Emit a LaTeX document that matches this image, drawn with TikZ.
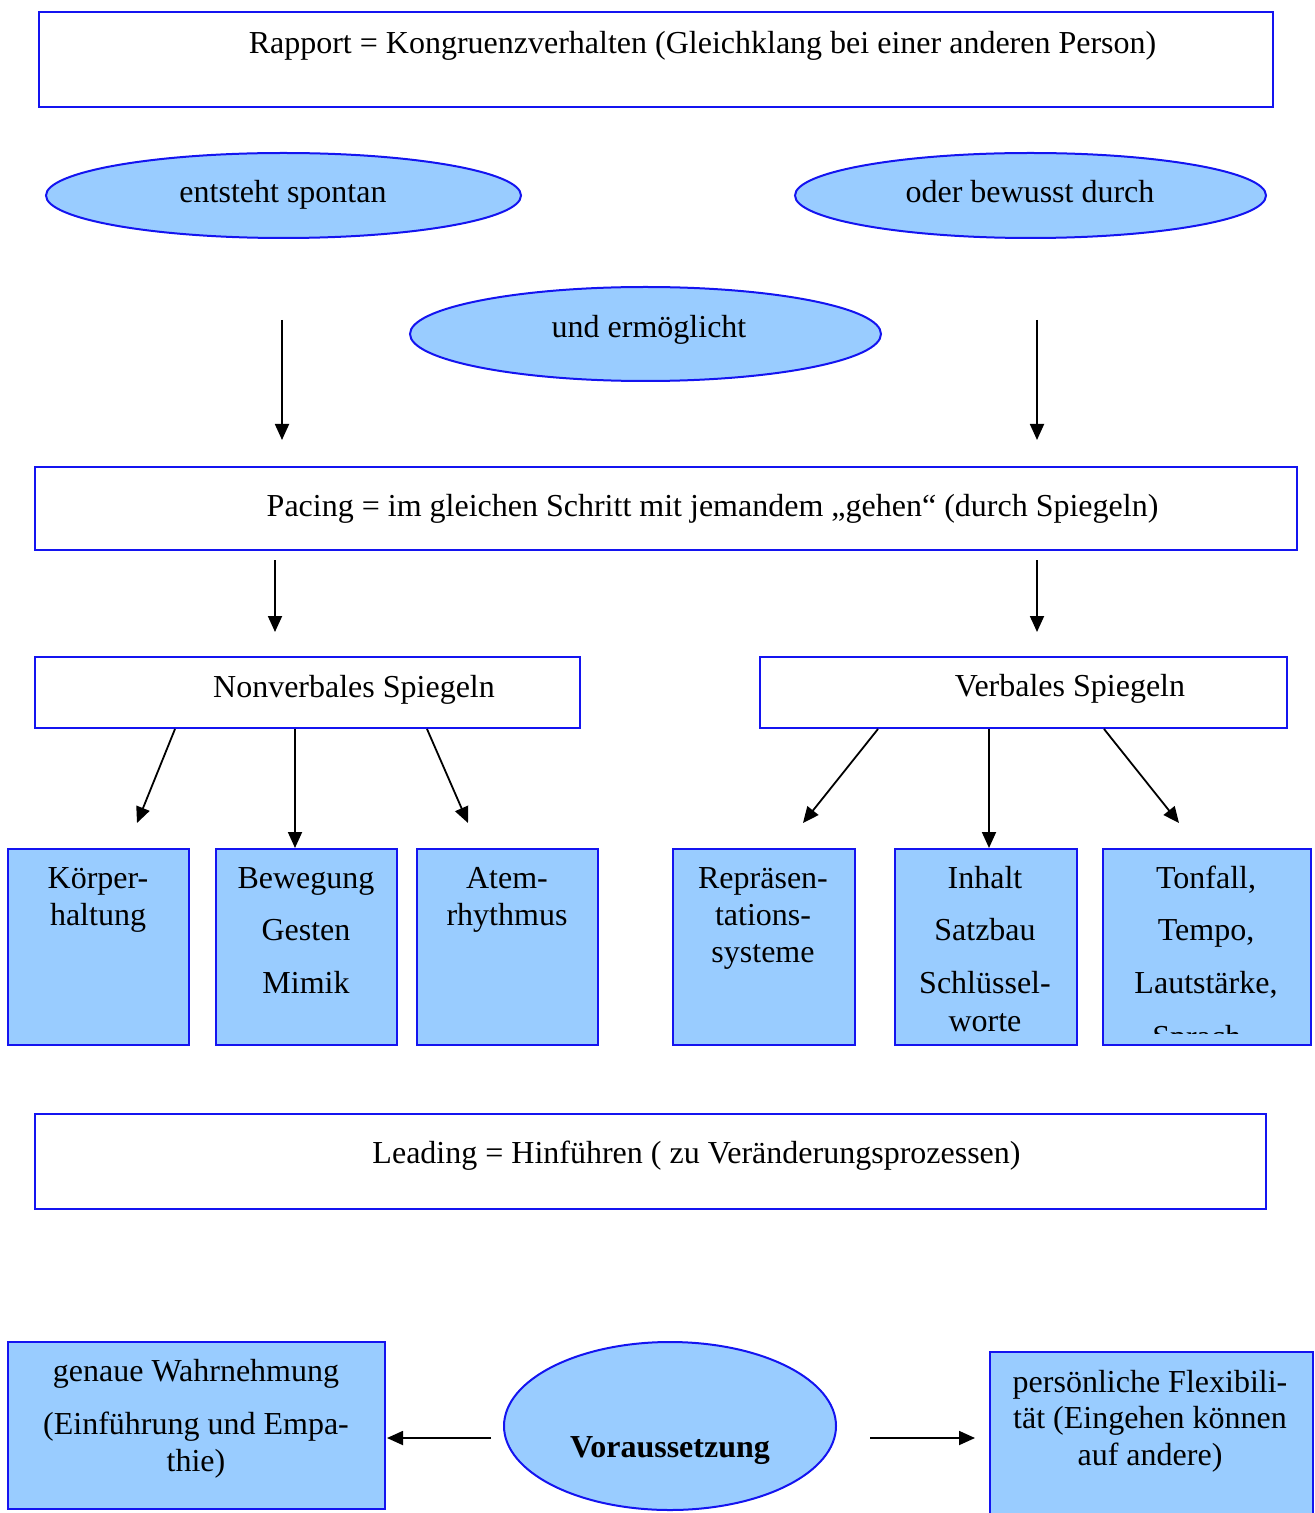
\documentclass[tikz,border=0pt]{standalone}
\usepackage{fontspec}
\setmainfont{Liberation Serif}
\usetikzlibrary{arrows.meta,shapes.geometric}
\definecolor{bord}{RGB}{20,20,240}
\definecolor{lblue}{RGB}{153,204,255}
\begin{document}
\begin{tikzpicture}[x=0.5pt,y=-0.5pt,
  font=\fontsize{16pt}{19pt}\selectfont,
  wbox/.style={draw=bord,line width=1pt,fill=white,inner sep=0pt,outer sep=0pt},
  bbox/.style={draw=bord,line width=1pt,fill=lblue,inner sep=0pt,outer sep=0pt},
  ell/.style={ellipse,draw=bord,line width=1pt,fill=lblue,inner sep=0pt,outer sep=0pt},
  txt/.style={anchor=base,inner sep=0pt,yshift=-0.75pt},
  arr/.style={-{Triangle[length=8pt,width=7pt]},line width=0.9pt,black}]
\useasboundingbox (0,0) rectangle (1314,1513);
% boxes
\node[wbox,minimum width=617pt,minimum height=47.5pt] (rapport) at (656,59.5) {};
\node[txt] (trapport) at (702.5,52) {Rapport = Kongruenzverhalten (Gleichklang bei einer anderen Person)};

\node[ell,minimum width=237.5pt,minimum height=42.5pt] (spontan) at (283.5,195.5) {};
\node[txt] (tspontan) at (283,201) {entsteht spontan};
\node[ell,minimum width=235.5pt,minimum height=42.5pt] (bewusst) at (1030.5,195.5) {};
\node[txt] (tbewusst) at (1030,201) {oder bewusst durch};
\node[ell,minimum width=235.5pt,minimum height=47pt] (ermoeg) at (645.5,334) {};
\node[txt] (termoeg) at (649,336) {und ermöglicht};

\coordinate (a1s) at (282,320); \coordinate (a1e) at (282,440);
\coordinate (a2s) at (1037,320); \coordinate (a2e) at (1037,440);
\draw[arr] (a1s) -- (a1e);
\draw[arr] (a2s) -- (a2e);

\node[wbox,minimum width=631pt,minimum height=41.5pt] (pacing) at (666,508.5) {};
\node[txt] (tpacing) at (712.5,515) {Pacing = im gleichen Schritt mit jemandem „gehen“ (durch Spiegeln)};

\coordinate (a3s) at (275,560); \coordinate (a3e) at (275,632);
\coordinate (a4s) at (1037,560); \coordinate (a4e) at (1037,632);
\draw[arr] (a3s) -- (a3e);
\draw[arr] (a4s) -- (a4e);

\node[wbox,minimum width=272.5pt,minimum height=35.5pt] (nonverb) at (307.5,692.5) {};
\node[txt] (tnonverb) at (354,696) {Nonverbales Spiegeln};
\node[wbox,minimum width=263.5pt,minimum height=35.5pt] (verb) at (1023.5,692.5) {};
\node[txt] (tverb) at (1070,695) {Verbales Spiegeln};

% small boxes
\node[bbox,minimum width=90.5pt,minimum height=98pt] (b1) at (98.5,947) {};
\node[bbox,minimum width=90.5pt,minimum height=98pt] (b2) at (306.5,947) {};
\node[bbox,minimum width=90.5pt,minimum height=98pt] (b3) at (507.5,947) {};
\node[bbox,minimum width=91pt,minimum height=98pt] (b4) at (764,947) {};
\node[bbox,minimum width=91pt,minimum height=98pt] (b5) at (986,947) {};
\node[bbox,minimum width=104pt,minimum height=98pt] (b6) at (1207,947) {};

\node[txt] at (98,887) {Körper-};
\node[txt] at (98,924) {haltung};
\node[txt] at (306,887) {Bewegung};
\node[txt] at (306,939) {Gesten};
\node[txt] at (306,992) {Mimik};
\node[txt] at (507,887) {Atem-};
\node[txt] at (507,924) {rhythmus};
\node[txt] at (763,887) {Repräsen-};
\node[txt] at (763,924) {tations-};
\node[txt] at (763,961) {systeme};
\node[txt] at (985,887) {Inhalt};
\node[txt] at (985,939) {Satzbau};
\node[txt] at (985,992) {Schlüssel-};
\node[txt] at (985,1030) {worte};
\node[txt] at (1206,887) {Tonfall,};
\node[txt] at (1206,939) {Tempo,};
\node[txt] at (1206,992) {Lautstärke,};
\begin{scope}
\clip (1104,850) rectangle (1310,1033);
\node[txt] at (1202,1046) {Sprach-};
\end{scope}

% arrows from Nonverbal / Verbal
\coordinate (n1) at (175,729); \coordinate (n1e) at (137,823);
\coordinate (n2) at (295,729); \coordinate (n2e) at (295,848);
\coordinate (n3) at (427,729); \coordinate (n3e) at (468,823);
\coordinate (v1) at (878,729); \coordinate (v1e) at (803,823);
\coordinate (v2) at (989,729); \coordinate (v2e) at (989,848);
\coordinate (v3) at (1104,729); \coordinate (v3e) at (1179,823);
\draw[arr] (n1) -- (n1e);
\draw[arr] (n2) -- (n2e);
\draw[arr] (n3) -- (n3e);
\draw[arr] (v1) -- (v1e);
\draw[arr] (v2) -- (v2e);
\draw[arr] (v3) -- (v3e);

\node[wbox,minimum width=615.5pt,minimum height=47.5pt] (leading) at (650.5,1161.5) {};
\node[txt] (tleading) at (696.5,1162) {Leading = Hinführen ( zu Veränderungsprozessen)};

% bottom row
\node[bbox,minimum width=188.5pt,minimum height=83.5pt] (wahr) at (196.5,1425.5) {};
\node[txt] at (196,1380) {genaue Wahrnehmung};
\node[txt] at (196,1433) {(Einführung und Empa-};
\node[txt] at (196,1470) {thie)};

\node[ell,minimum width=166pt,minimum height=84pt] (vor) at (670,1426) {};
\node[txt] at (670,1456) {\bfseries Voraussetzung};

\node[bbox,minimum width=161.5pt,minimum height=84pt] (flex) at (1151,1436) {};
\node[txt] at (1150,1391) {persönliche Flexibili-};
\node[txt] at (1150,1427) {tät (Eingehen können};
\node[txt] at (1150,1464) {auf andere)};

\coordinate (l1) at (491,1438); \coordinate (l1e) at (387,1438);
\coordinate (r1) at (870,1438); \coordinate (r1e) at (975,1438);
\draw[arr] (l1) -- (l1e);
\draw[arr] (r1) -- (r1e);
\end{tikzpicture}
\end{document}
